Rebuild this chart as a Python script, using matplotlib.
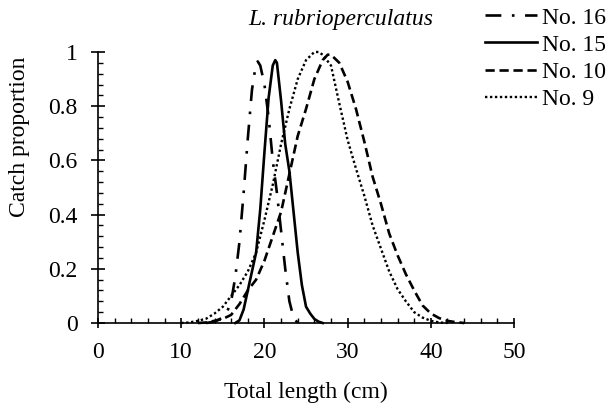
import matplotlib
matplotlib.use("Agg")
import matplotlib.pyplot as plt
from matplotlib.ticker import MultipleLocator

# values
x16 = [13, 14, 15, 15.5, 16, 16.5, 17, 17.5, 18, 18.5, 19, 19.2, 19.5, 20, 20.5, 21, 21.5, 22, 22.5, 23, 23.5, 24]
y16 = [0.0, 0.005, 0.02, 0.04, 0.08, 0.17, 0.30, 0.48, 0.68, 0.86, 0.96, 0.965, 0.95, 0.88, 0.76, 0.60, 0.48, 0.34, 0.20, 0.08, 0.02, 0.0]

x15 = [16.5, 17, 17.5, 18, 18.5, 19, 19.5, 20, 20.5, 21, 21.3, 21.5, 22, 22.5, 23, 23.5, 24, 24.5, 25, 25.5, 26, 26.5, 27]
y15 = [0.0, 0.01, 0.05, 0.12, 0.19, 0.26, 0.42, 0.63, 0.83, 0.95, 0.97, 0.96, 0.82, 0.66, 0.56, 0.41, 0.26, 0.14, 0.06, 0.035, 0.015, 0.005, 0.0]

x10 = [12, 13, 14, 15, 16, 17, 18, 19, 20, 21, 22, 23, 24, 25, 26, 27, 27.6, 28, 29, 30, 31, 32, 33, 34, 35, 36, 37, 38, 39, 40, 41, 42, 43, 44]
y10 = [0.0, 0.002, 0.008, 0.015, 0.03, 0.07, 0.12, 0.16, 0.23, 0.32, 0.41, 0.55, 0.69, 0.79, 0.90, 0.97, 0.99, 0.99, 0.96, 0.89, 0.79, 0.67, 0.54, 0.44, 0.33, 0.25, 0.18, 0.12, 0.065, 0.035, 0.018, 0.008, 0.003, 0.0]

x9 = [10, 11, 12, 13, 14, 15, 16, 17, 18, 19, 20, 21, 22, 23, 24, 25, 26, 26.5, 27, 28, 29, 30, 31, 32, 33, 34, 35, 36, 37, 38, 39, 40, 41, 42]
y9 = [0.0, 0.002, 0.008, 0.016, 0.035, 0.06, 0.10, 0.14, 0.19, 0.26, 0.38, 0.51, 0.66, 0.79, 0.90, 0.97, 1.0, 1.0, 0.99, 0.95, 0.81, 0.675, 0.57, 0.47, 0.36, 0.275, 0.19, 0.125, 0.08, 0.04, 0.02, 0.008, 0.002, 0.0]

xticks = [0, 10, 20, 30, 40, 50]
yticks = [0, 0.2, 0.4, 0.6, 0.8, 1]
ytick_labels = ["0", "0.2", "0.4", "0.6", "0.8", "1"]

plt.rcParams['font.family'] = ['Liberation Serif', 'DejaVu Serif']
fs = 17

fig = plt.figure(figsize=(6.1, 4.04), dpi=100)
ax = fig.add_axes([0.1607, 0.2005, 0.682, 0.6708])

ax.plot(x16, y16, color='black', lw=1.9, dashes=(6, 4, 1, 4), label='No. 16', clip_on=False)
ax.plot(x15, y15, color='black', lw=1.9, label='No. 15', clip_on=False)
ax.plot(x10, y10, color='black', lw=1.9, dashes=(3.5, 1.8), label='No. 10', clip_on=False)
ax.plot(x9, y9, color='black', lw=1.7, dashes=(1, 1.1), label='No. 9', clip_on=False)

ax.set_xlim(0, 50)
ax.set_ylim(0, 1)
ax.set_xticks(xticks)
ax.set_yticks(yticks)
ax.set_yticklabels(ytick_labels)
ax.xaxis.set_minor_locator(MultipleLocator(2))
ax.yaxis.set_minor_locator(MultipleLocator(0.04))
ax.tick_params(which='major', width=1.2, labelsize=fs)
ax.tick_params(axis='x', which='major', direction='inout', length=7.2, pad=10)
ax.tick_params(axis='y', which='major', direction='inout', length=9.4, pad=10)
ax.tick_params(which='minor', direction='in', length=3.5, width=1.0)

for s in ['top', 'right']:
    ax.spines[s].set_visible(False)
for s in ['left', 'bottom']:
    ax.spines[s].set_linewidth(1.2)

fig.text(306 / 610, 1 - 392 / 404, 'Total length (cm)', fontsize=fs, ha='center', va='center')
fig.text(20 / 610, 1 - 137 / 404, 'Catch proportion', fontsize=fs, rotation=90, ha='center', va='center')
fig.text(341 / 610, 1 - 20 / 404, 'L. rubrioperculatus', fontsize=fs, style='italic', ha='center', va='center')

fig.legend(loc='upper left', bbox_to_anchor=(0.78, 1.006), frameon=False, fontsize=fs,
           handlelength=2.2, handletextpad=0.2, labelspacing=0.24, borderaxespad=0)

fig.savefig('out.png', dpi=100)
